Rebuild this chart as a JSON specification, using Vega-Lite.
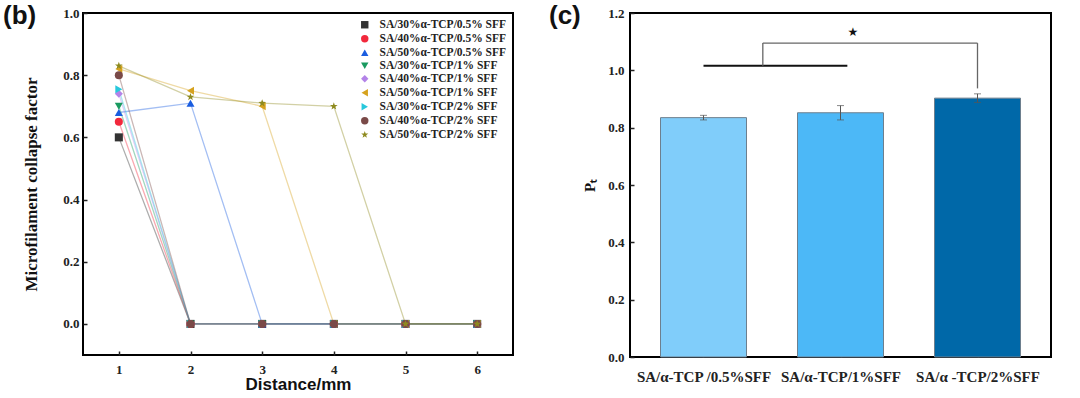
{
  "$schema": "https://vega.github.io/schema/vega-lite/v6.json",
  "background": "white",
  "padding": {"left": 2, "top": 2, "right": 10, "bottom": 2},
  "spacing": 117,
  "bounds": "flush",
  "config": {
    "view": {"stroke": "black", "strokeWidth": 2},
    "axis": {
      "labelFont": "Liberation Serif", "labelFontWeight": "bold", "labelColor": "#222",
      "titleFont": "Liberation Serif", "titleFontWeight": "bold", "titleColor": "#111",
      "domain": false, "grid": false, "tickColor": "#222", "tickWidth": 1.5, "tickSize": -4
    },
    "legend": {"labelFont": "Liberation Serif", "labelFontWeight": "bold", "labelFontSize": 11.5, "labelColor": "#222", "rowPadding": 0, "labelOffset": 9, "symbolSize": 55, "padding": 0, "offset": 6},
    "title": {"font": "Liberation Sans", "fontWeight": "bold", "fontSize": 26, "color": "#111", "anchor": "start", "frame": "group", "baseline": "top", "offset": 0}
  },
  "datasets": {
    "collapse": [
      {"series": "SA/30%α-TCP/0.5% SFF", "d": 1, "v": 0.60}, {"series": "SA/30%α-TCP/0.5% SFF", "d": 2, "v": 0}, {"series": "SA/30%α-TCP/0.5% SFF", "d": 3, "v": 0}, {"series": "SA/30%α-TCP/0.5% SFF", "d": 4, "v": 0}, {"series": "SA/30%α-TCP/0.5% SFF", "d": 5, "v": 0}, {"series": "SA/30%α-TCP/0.5% SFF", "d": 6, "v": 0},
      {"series": "SA/40%α-TCP/0.5% SFF", "d": 1, "v": 0.65}, {"series": "SA/40%α-TCP/0.5% SFF", "d": 2, "v": 0}, {"series": "SA/40%α-TCP/0.5% SFF", "d": 3, "v": 0}, {"series": "SA/40%α-TCP/0.5% SFF", "d": 4, "v": 0}, {"series": "SA/40%α-TCP/0.5% SFF", "d": 5, "v": 0}, {"series": "SA/40%α-TCP/0.5% SFF", "d": 6, "v": 0},
      {"series": "SA/50%α-TCP/0.5% SFF", "d": 1, "v": 0.68}, {"series": "SA/50%α-TCP/0.5% SFF", "d": 2, "v": 0.71}, {"series": "SA/50%α-TCP/0.5% SFF", "d": 3, "v": 0}, {"series": "SA/50%α-TCP/0.5% SFF", "d": 4, "v": 0}, {"series": "SA/50%α-TCP/0.5% SFF", "d": 5, "v": 0}, {"series": "SA/50%α-TCP/0.5% SFF", "d": 6, "v": 0},
      {"series": "SA/30%α-TCP/1% SFF", "d": 1, "v": 0.70}, {"series": "SA/30%α-TCP/1% SFF", "d": 2, "v": 0}, {"series": "SA/30%α-TCP/1% SFF", "d": 3, "v": 0}, {"series": "SA/30%α-TCP/1% SFF", "d": 4, "v": 0}, {"series": "SA/30%α-TCP/1% SFF", "d": 5, "v": 0}, {"series": "SA/30%α-TCP/1% SFF", "d": 6, "v": 0},
      {"series": "SA/40%α-TCP/1% SFF", "d": 1, "v": 0.74}, {"series": "SA/40%α-TCP/1% SFF", "d": 2, "v": 0}, {"series": "SA/40%α-TCP/1% SFF", "d": 3, "v": 0}, {"series": "SA/40%α-TCP/1% SFF", "d": 4, "v": 0}, {"series": "SA/40%α-TCP/1% SFF", "d": 5, "v": 0}, {"series": "SA/40%α-TCP/1% SFF", "d": 6, "v": 0},
      {"series": "SA/50%α-TCP/1% SFF", "d": 1, "v": 0.82}, {"series": "SA/50%α-TCP/1% SFF", "d": 2, "v": 0.75}, {"series": "SA/50%α-TCP/1% SFF", "d": 3, "v": 0.70}, {"series": "SA/50%α-TCP/1% SFF", "d": 4, "v": 0}, {"series": "SA/50%α-TCP/1% SFF", "d": 5, "v": 0}, {"series": "SA/50%α-TCP/1% SFF", "d": 6, "v": 0},
      {"series": "SA/30%α-TCP/2% SFF", "d": 1, "v": 0.755}, {"series": "SA/30%α-TCP/2% SFF", "d": 2, "v": 0}, {"series": "SA/30%α-TCP/2% SFF", "d": 3, "v": 0}, {"series": "SA/30%α-TCP/2% SFF", "d": 4, "v": 0}, {"series": "SA/30%α-TCP/2% SFF", "d": 5, "v": 0}, {"series": "SA/30%α-TCP/2% SFF", "d": 6, "v": 0},
      {"series": "SA/40%α-TCP/2% SFF", "d": 1, "v": 0.80}, {"series": "SA/40%α-TCP/2% SFF", "d": 2, "v": 0}, {"series": "SA/40%α-TCP/2% SFF", "d": 3, "v": 0}, {"series": "SA/40%α-TCP/2% SFF", "d": 4, "v": 0}, {"series": "SA/40%α-TCP/2% SFF", "d": 5, "v": 0}, {"series": "SA/40%α-TCP/2% SFF", "d": 6, "v": 0},
      {"series": "SA/50%α-TCP/2% SFF", "d": 1, "v": 0.83}, {"series": "SA/50%α-TCP/2% SFF", "d": 2, "v": 0.73}, {"series": "SA/50%α-TCP/2% SFF", "d": 3, "v": 0.71}, {"series": "SA/50%α-TCP/2% SFF", "d": 4, "v": 0.70}, {"series": "SA/50%α-TCP/2% SFF", "d": 5, "v": 0}, {"series": "SA/50%α-TCP/2% SFF", "d": 6, "v": 0}
    ],
    "bars": [
      {"group": "SA/α-TCP /0.5%SFF", "pos": 1, "mean": 0.835, "lo": 0.827, "hi": 0.843},
      {"group": "SA/α-TCP/1%SFF", "pos": 2, "mean": 0.852, "lo": 0.827, "hi": 0.877},
      {"group": "SA/α -TCP/2%SFF", "pos": 3, "mean": 0.903, "lo": 0.888, "hi": 0.918}
    ],
    "bracket": [
      {"kind": "main", "x": 1, "x2": 2.05, "y": 1.016, "y2": 1.016},
      {"kind": "link", "x": 1.433, "x2": 1.433, "y": 1.016, "y2": 1.095},
      {"kind": "link", "x": 1.433, "x2": 3, "y": 1.095, "y2": 1.095},
      {"kind": "link", "x": 3, "x2": 3, "y": 1.095, "y2": 0.937}
    ],
    "sig": [{"x": 2.09, "y": 1.134, "label": "★"}]
  },
  "hconcat": [
    {
      "width": 430,
      "height": 342,
      "title": {"text": "(b)", "dx": -80, "dy": 26},
      "data": {"name": "collapse"},
      "resolve": {"legend": {"fill": "independent", "shape": "independent"}},
      "encoding": {
        "x": {"field": "d", "type": "quantitative", "scale": {"domain": [0.5, 6.5], "nice": false, "zero": false},
              "axis": {"values": [1, 2, 3, 4, 5, 6], "labelFontSize": 13, "labelPadding": 12, "title": "Distance/mm", "titleFont": "Liberation Sans", "titleFontSize": 17, "titlePadding": 0}},
        "y": {"field": "v", "type": "quantitative", "scale": {"domain": [-0.1, 1.0], "nice": false, "zero": false},
              "axis": {"values": [0, 0.2, 0.4, 0.6, 0.8, 1.0], "format": ".1f", "labelFontSize": 13, "labelPadding": 8, "title": "Microfilament collapse factor", "titleFontSize": 17, "titlePadding": 22}}
      },
      "layer": [
        {
          "mark": {"type": "line", "strokeWidth": 1.3, "opacity": 0.4},
          "encoding": {
            "stroke": {"field": "series", "type": "nominal", "legend": null,
                      "scale": {"domain": ["SA/30%α-TCP/0.5% SFF", "SA/40%α-TCP/0.5% SFF", "SA/50%α-TCP/0.5% SFF", "SA/30%α-TCP/1% SFF", "SA/40%α-TCP/1% SFF", "SA/50%α-TCP/1% SFF", "SA/30%α-TCP/2% SFF", "SA/40%α-TCP/2% SFF", "SA/50%α-TCP/2% SFF"],
                                "range": ["#333333", "#f2283c", "#1a5de0", "#1a9a60", "#b383e8", "#d6a21e", "#28c8dc", "#7a4a48", "#8e8a1e"]}}
          }
        },
        {
          "mark": {"type": "point", "filled": true, "size": 65, "opacity": 1},
          "encoding": {
            "fill": {"field": "series", "type": "nominal",
                      "scale": {"domain": ["SA/30%α-TCP/0.5% SFF", "SA/40%α-TCP/0.5% SFF", "SA/50%α-TCP/0.5% SFF", "SA/30%α-TCP/1% SFF", "SA/40%α-TCP/1% SFF", "SA/50%α-TCP/1% SFF", "SA/30%α-TCP/2% SFF", "SA/40%α-TCP/2% SFF", "SA/50%α-TCP/2% SFF"],
                                "range": ["#333333", "#f2283c", "#1a5de0", "#1a9a60", "#b383e8", "#d6a21e", "#28c8dc", "#7a4a48", "#8e8a1e"]},
                      "legend": {"orient": "top-right", "title": null}},
            "shape": {"field": "series", "type": "nominal",
                      "scale": {"domain": ["SA/30%α-TCP/0.5% SFF", "SA/40%α-TCP/0.5% SFF", "SA/50%α-TCP/0.5% SFF", "SA/30%α-TCP/1% SFF", "SA/40%α-TCP/1% SFF", "SA/50%α-TCP/1% SFF", "SA/30%α-TCP/2% SFF", "SA/40%α-TCP/2% SFF", "SA/50%α-TCP/2% SFF"],
                                "range": ["square", "circle", "triangle-up", "triangle-down", "diamond", "triangle-left", "triangle-right", "circle", "M0,-1L0.235,-0.324L0.951,-0.309L0.38,0.124L0.588,0.809L0,0.4L-0.588,0.809L-0.38,0.124L-0.951,-0.309L-0.235,-0.324Z"]},
                      "legend": {"orient": "top-right", "title": null}}
          }
        }
      ]
    },
    {
      "width": 421,
      "height": 344,
      "title": {"text": "(c)", "dx": -81, "dy": 26},
      "encoding": {
        "x": {"field": "pos", "type": "quantitative", "scale": {"domain": [0.5, 3.5], "nice": false, "zero": false},
              "axis": {"values": [1, 2, 3], "labelExpr": "datum.value == 1 ? 'SA/α-TCP /0.5%SFF' : datum.value == 2 ? 'SA/α-TCP/1%SFF' : 'SA/α -TCP/2%SFF'", "labelFontSize": 15, "labelPadding": 16, "labelOverlap": false, "labelFlush": false, "labelBound": false, "title": null}}
      },
      "layer": [
        {
          "data": {"name": "bars"},
          "mark": {"type": "bar", "size": 86, "stroke": "#6d7f8e", "strokeWidth": 1},
          "encoding": {
            "y": {"field": "mean", "type": "quantitative", "scale": {"domain": [0, 1.2], "nice": false},
                  "axis": {"values": [0, 0.2, 0.4, 0.6, 0.8, 1.0, 1.2], "format": ".1f", "labelFontSize": 13, "labelPadding": 10, "title": "Pₜ", "titleFontSize": 15, "titlePadding": 10}},
            "color": {"field": "group", "type": "nominal", "legend": null,
                      "scale": {"domain": ["SA/α-TCP /0.5%SFF", "SA/α-TCP/1%SFF", "SA/α -TCP/2%SFF"], "range": ["#80cdfa", "#4cb8f7", "#0068a8"]}}
          }
        },
        {
          "data": {"name": "bars"},
          "mark": {"type": "rule", "color": "#555", "strokeWidth": 1},
          "encoding": {"y": {"field": "lo", "type": "quantitative"}, "y2": {"field": "hi"}}
        },
        {
          "data": {"name": "bars"},
          "mark": {"type": "tick", "orient": "horizontal", "color": "#555", "size": 7, "thickness": 1},
          "encoding": {"y": {"field": "lo", "type": "quantitative"}}
        },
        {
          "data": {"name": "bars"},
          "mark": {"type": "tick", "orient": "horizontal", "color": "#555", "size": 7, "thickness": 1},
          "encoding": {"y": {"field": "hi", "type": "quantitative"}}
        },
        {
          "data": {"name": "bracket"},
          "transform": [{"filter": "datum.kind == 'main'"}],
          "mark": {"type": "rule", "color": "#111", "strokeWidth": 2},
          "encoding": {"x": {"field": "x", "type": "quantitative"}, "x2": {"field": "x2"}, "y": {"field": "y", "type": "quantitative"}, "y2": {"field": "y2"}}
        },
        {
          "data": {"name": "bracket"},
          "transform": [{"filter": "datum.kind == 'link'"}],
          "mark": {"type": "rule", "color": "#666", "strokeWidth": 1.3},
          "encoding": {"x": {"field": "x", "type": "quantitative"}, "x2": {"field": "x2"}, "y": {"field": "y", "type": "quantitative"}, "y2": {"field": "y2"}}
        },
        {
          "data": {"name": "sig"},
          "mark": {"type": "text", "fontSize": 12, "color": "#111", "font": "DejaVu Sans"},
          "encoding": {"x": {"field": "x", "type": "quantitative"}, "y": {"field": "y", "type": "quantitative"}, "text": {"field": "label"}}
        }
      ]
    }
  ]
}
